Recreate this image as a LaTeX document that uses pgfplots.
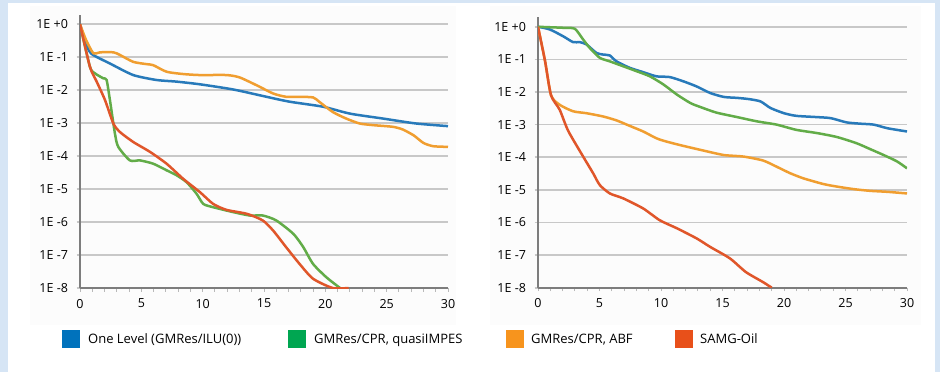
\documentclass[border=0pt]{standalone}
\usepackage{pgfplots}
\pgfplotsset{compat=1.18}
\usepackage{fontspec}
\setmainfont{Open Sans}
\definecolor{bgblue}{RGB}{214,229,245}
\definecolor{panel}{RGB}{252,252,252}
\definecolor{gridc}{RGB}{200,200,200}
\definecolor{axisc}{RGB}{125,125,125}
\definecolor{tickc}{RGB}{185,185,185}
\definecolor{lblue}{RGB}{40,122,186}
\definecolor{lgreen}{RGB}{98,172,72}
\definecolor{lorange}{RGB}{240,158,48}
\definecolor{lred}{RGB}{224,86,42}
\definecolor{kblue}{RGB}{0,114,188}
\definecolor{kgreen}{RGB}{0,166,81}
\definecolor{korange}{RGB}{247,148,29}
\definecolor{kred}{RGB}{232,80,26}
\pgfplotsset{
  panelaxis/.style={
    scale only axis, anchor=south west,
    xmin=0, xmax=30, ymin=1e-8,
    axis lines*=left,
    axis line style={draw=axisc, line width=1.6pt},
    xtick={0,5,...,30}, xticklabels={0,5,10,15,20,25,30},
    minor x tick num=4,
    ytick={1e-8,1e-7,1e-6,1e-5,1e-4,1e-3,1e-2,1e-1,1},
    yticklabels={1E -8,1E -7,1E -6,1E -5,1E -4,1E -3,1E -2,1E -1,1E +0},
    yminorticks=false,
    ymajorgrids, grid style={draw=gridc, line width=1.7pt},
    tick align=outside, major tick length=3.5pt, minor tick length=3.5pt,
    xtick style={draw=tickc, line width=0.9pt},
    minor tick style={draw=tickc, line width=0.9pt},
    ytick style={draw=gridc, line width=1.7pt},
    tick label style={font=\fontsize{12.5}{13}\selectfont, text=black},
    yticklabel style={xshift=-5pt},
    xticklabel style={yshift=-4pt},
    every axis plot/.append style={line width=2.5pt, smooth, tension=0.4, mark=none},
  }
}
\begin{document}
\begin{tikzpicture}[x=1pt,y=1pt]
\useasboundingbox (0,0) rectangle (940,372);
\fill[bgblue] (0,0) rectangle (940,372);
\fill[white] (8,0) rectangle (935,369);
\fill[panel] (30,47) rectangle (456,366);
\fill[panel] (490,47) rectangle (921,366);

% left panel
\begin{axis}[ymode=log, panelaxis, at={(80pt,84pt)}, width=368pt, height=273pt, ymax=1.91]
\addplot[lblue] coordinates {(0,1) (0.4,3.2e-1) (0.9,1.30e-1) (2.44,6.46e-2) (4.34,2.88e-2) (6.24,2.04e-2) (7.87,1.82e-2) (9.77,1.51e-2) (12.5,1.05e-2) (15.2,6.31e-3) (17.1,4.47e-3) (19.8,3.16e-3) (22.0,1.95e-3) (24.7,1.38e-3) (27.4,9.77e-4) (30,8.13e-4)};
\addplot[lgreen] coordinates {(0,1) (0.81,5.13e-2) (1.22,3.24e-2) (1.9,2.29e-2) (2.17,2.04e-2) (2.44,5.01e-3) (2.85,4.79e-4) (3.12,1.91e-4) (4.07,7.41e-5) (4.89,7.41e-5) (5.97,5.89e-5) (7.06,3.72e-5) (7.87,2.63e-5) (8.69,1.62e-5) (9.5,7.24e-6) (10.05,3.55e-6) (10.86,2.82e-6) (12.5,2.0e-6) (13.85,1.58e-6) (14.9,1.58e-6) (16.0,1.12e-6) (17.4,4.37e-7) (18.2,1.74e-7) (19.0,5.37e-8) (20.1,2.09e-8) (21.2,1e-8)};
\addplot[lorange] coordinates {(0,1) (0.5,3.3e-1) (1.09,1.32e-1) (1.63,1.41e-1) (2.72,1.41e-1) (3.26,1.17e-1) (4.34,7.24e-2) (5.43,6.17e-2) (5.97,5.75e-2) (7.06,3.63e-2) (8.42,3.09e-2) (9.77,2.88e-2) (11.95,2.88e-2) (13.0,2.45e-2) (14.4,1.41e-2) (15.75,7.94e-3) (16.8,6.31e-3) (17.9,6.31e-3) (19.0,6.03e-3) (19.5,4.47e-3) (20.6,2.19e-3) (21.7,1.38e-3) (22.8,9.77e-4) (23.9,8.71e-4) (25.5,7.76e-4) (26.3,6.46e-4) (27.2,4.27e-4) (28.0,2.51e-4) (28.8,2.0e-4) (30,1.91e-4)};
\addplot[lred] coordinates {(0,1) (0.81,5.13e-2) (1.36,1.82e-2) (2.04,5.01e-3) (2.72,9.77e-4) (3.26,5.37e-4) (4.34,2.69e-4) (5.7,1.35e-4) (7.06,5.89e-5) (8.42,2.04e-5) (9.77,8.13e-6) (10.86,3.55e-6) (11.95,2.34e-6) (13.6,1.78e-6) (14.9,1.12e-6) (15.75,5.5e-7) (16.8,1.74e-7) (17.9,5.37e-8) (19.0,1.91e-8) (20.6,1e-8) (21.9,1e-8)};
\end{axis}

% right panel
\begin{axis}[ymode=log, panelaxis, at={(538pt,84.3pt)}, width=369pt, height=271pt, ymax=2.04]
\addplot[lblue] coordinates {(0,1) (0.95,8.32e-1) (2.04,5.13e-1) (2.85,3.39e-1) (3.39,3.39e-1) (3.94,2.88e-1) (4.75,1.58e-1) (5.29,1.41e-1) (5.84,1.32e-1) (6.38,8.71e-2) (7.47,5.5e-2) (8.55,4.07e-2) (9.64,3.02e-2) (10.7,2.88e-2) (11.8,2.14e-2) (12.9,1.48e-2) (14.0,9.33e-3) (15.1,7.08e-3) (16.2,6.61e-3) (17.2,6.03e-3) (18.1,5.13e-3) (18.9,3.24e-3) (20.0,2.24e-3) (21.0,1.86e-3) (22.7,1.70e-3) (23.8,1.58e-3) (25.1,1.17e-3) (26.2,1.07e-3) (27.3,1.0e-3) (28.4,7.76e-4) (30,6.17e-4)};
\addplot[lgreen] coordinates {(0,1) (2.04,9.33e-1) (2.99,8.71e-1) (3.67,4.07e-1) (4.21,2.24e-1) (5.02,1.12e-1) (5.84,8.71e-2) (6.92,6.17e-2) (8.0,4.37e-2) (9.1,3.02e-2) (10.2,1.70e-2) (11.3,8.32e-3) (12.4,4.57e-3) (13.2,3.47e-3) (14.5,2.34e-3) (16.2,1.70e-3) (17.8,1.26e-3) (19.4,1.0e-3) (21.0,6.92e-4) (22.7,5.5e-4) (24.3,4.17e-4) (25.9,2.69e-4) (27.0,1.78e-4) (28.1,1.17e-4) (29.2,7.41e-5) (30,4.57e-5)};
\addplot[lorange] coordinates {(0,1) (0.57,9.0e-2) (1.06,7.94e-3) (1.76,4.07e-3) (2.85,2.57e-3) (3.94,2.24e-3) (5.29,1.78e-3) (6.38,1.35e-3) (7.47,9.12e-4) (8.55,6.17e-4) (9.64,3.80e-4) (10.45,3.02e-4) (11.8,2.24e-4) (13.4,1.62e-4) (15.1,1.17e-4) (16.7,1.05e-4) (18.3,7.94e-5) (19.4,5.13e-5) (20.5,3.24e-5) (21.6,2.24e-5) (23.2,1.51e-5) (24.3,1.26e-5) (25.7,1.05e-5) (27.0,9.33e-6) (28.4,8.71e-6) (30,7.76e-6)};
\addplot[lred] coordinates {(0,1) (0.57,9.0e-2) (1.06,7.94e-3) (1.76,2.88e-3) (2.45,6.5e-4) (3.67,1.05e-4) (4.48,3.24e-5) (5.02,1.41e-5) (5.84,7.76e-6) (6.92,5.5e-6) (8.55,2.69e-6) (9.9,1.17e-6) (11.3,6.61e-7) (12.9,3.24e-7) (14.0,1.78e-7) (15.6,7.94e-8) (16.9,3.02e-8) (18.3,1.48e-8) (19.0,1e-8)};
\end{axis}

% legend
\fill[kblue] (62,24) rectangle (80,42);
\node[anchor=base west, inner sep=0pt, font=\fontsize{13}{14}\selectfont] at (88,28.3) {One Level (GMRes/ILU(0))};
\fill[kgreen] (288,24) rectangle (306,42);
\node[anchor=base west, inner sep=0pt, font=\fontsize{13}{14}\selectfont] at (314,28.3) {GMRes/CPR, quasiIMPES};
\fill[korange] (506,24) rectangle (524,42);
\node[anchor=base west, inner sep=0pt, font=\fontsize{13}{14}\selectfont] at (531,28.3) {GMRes/CPR, ABF};
\fill[kred] (675,24) rectangle (693,42);
\node[anchor=base west, inner sep=0pt, font=\fontsize{13}{14}\selectfont] at (700,28.3) {SAMG-Oil};
\end{tikzpicture}
\end{document}
